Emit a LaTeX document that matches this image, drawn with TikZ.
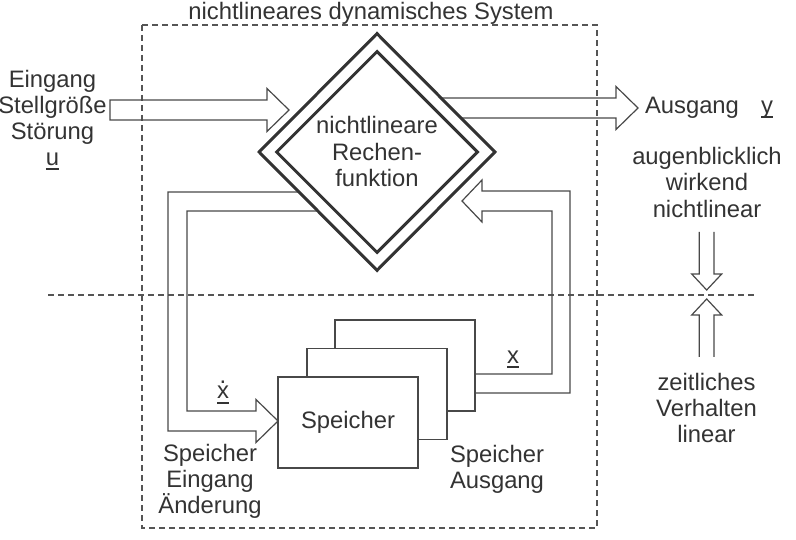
\documentclass[tikz,border=0pt]{standalone}
\usepackage{fontspec}
\setmainfont{Liberation Sans}
\usetikzlibrary{shapes.geometric}
\definecolor{txtcol}{HTML}{333333}
\definecolor{linecol}{HTML}{484848}
\definecolor{dashcol}{HTML}{555555}
\newcommand\ulin[1]{\setbox0\hbox{#1}\rlap{\rule[-5pt]{\wd0}{2.4pt}}\box0}
\newcommand\dotx{\setbox2\hbox{x}\rlap{\hbox to \wd2{\hss\raisebox{15.4pt}{.}\hss}}\box2}
\tikzset{
  txt/.style={font=\fontsize{23.8}{26}\selectfont, text=txtcol, align=center, inner sep=0pt},
  dashline/.style={draw=dashcol, line width=1.2pt, dash pattern=on 6pt off 4pt},
  fatarrow/.style={draw=linecol, line width=1.2pt, line join=miter},
  memorybox/.style={draw=linecol, line width=1.3pt, fill=white, rectangle, minimum width=140pt, minimum height=91pt, inner sep=0pt},
  dia/.style={diamond, draw=txtcol, line width=3pt, inner sep=0pt},
}
\begin{document}
\begin{tikzpicture}[x=1pt,y=-1pt]
\useasboundingbox (0,0) rectangle (796,540);
% system border and separating line
\draw[dashline] (142,25) rectangle (597,528);
\draw[dashline] (48,295) -- (757,295);
\node[txt, anchor=base] (title) at (371,20) {nichtlineares dynamisches System};
% input arrow
\draw[fatarrow] (110,100) -- (267,100) -- (267,88.5) -- (289,110) -- (267,131.5) -- (267,120) -- (110,120) -- cycle;
% output arrow
\draw[fatarrow] (400,98) -- (616,98) -- (616,86.5) -- (638,108) -- (616,129.5) -- (616,118) -- (400,118);
% left feedback (to memory)
\draw[fatarrow] (330,192) -- (168,192) -- (168,431) -- (256,431) -- (256,442.5) -- (278,421) -- (256,399.5) -- (256,411) -- (187,411) -- (187,211) -- (330,211);
% diamond
\node[dia, fill=white, minimum width=237pt, minimum height=238pt] (dout) at (377,152) {};
\node[dia, minimum width=202pt, minimum height=202pt] (din) at (377,152) {};
\node[txt, anchor=north, font=\fontsize{23.8}{26.7}\selectfont] (dtxt) at (377,116.1) {nichtlineare\\Rechen-\\funktion};
% memory boxes
\node[memorybox] (back) at (405,365.5) {};
\node[memorybox] (mid) at (377,394) {};
\node[memorybox, txt] (front) at (348,422.5) {Speicher};
% right feedback (from memory)
\draw[fatarrow] (back.east |- 0,393) -- (570,393) -- (570,191) -- (482,191) -- (482,180) -- (462,201) -- (482,222) -- (482,211) -- (552,211) -- (552,374) -- (back.east |- 0,374);
% labels
\node[txt, anchor=north] (inlbl) at (52.5,70) {Eingang\\Stellgröße\\Störung\\\ulin{u}};
\node[txt, anchor=base] (outlbl) at (692,113.3) {Ausgang};
\node[txt, anchor=base] (ylbl) at (767,113.3) {\ulin{y}};
\node[txt, anchor=base] (xdot) at (223,399) {\ulin{\dotx}};
\node[txt, anchor=base] (xlbl) at (513,363.3) {\ulin{x}};
\node[txt, anchor=north] (spin) at (210,444.5) {Speicher\\Eingang\\Änderung};
\node[txt, anchor=north] (spout) at (497,444.8) {Speicher\\Ausgang};
\node[txt, anchor=north, font=\fontsize{23.8}{26.5}\selectfont] (nonlin) at (707,146.8) {augenblicklich\\wirkend\\nichtlinear};
\node[txt, anchor=north] (lin) at (706.5,372.8) {zeitliches\\Verhalten\\linear};
% small arrows at the separator
\draw[fatarrow] (699.3,232) -- (699.3,274) -- (691.7,274) -- (706.7,290) -- (721.7,274) -- (714,274) -- (714,232);
\draw[fatarrow] (699.3,357) -- (699.3,315) -- (691.7,315) -- (706.7,299) -- (721.7,315) -- (714,315) -- (714,357);
\end{tikzpicture}
\end{document}
